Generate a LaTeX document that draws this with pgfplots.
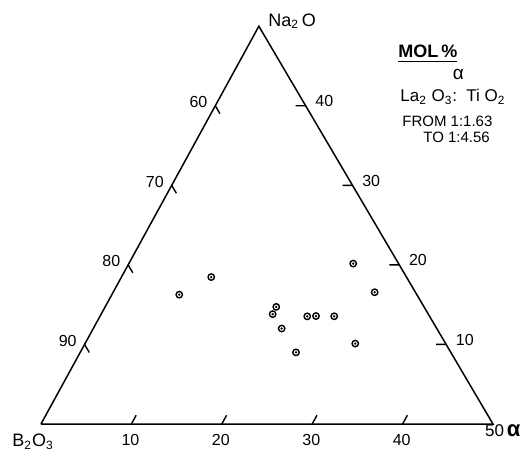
\documentclass[border=0pt]{standalone}
\usepackage{fontspec}
\setmainfont{Liberation Sans}
\usepackage{pgfplots}
\pgfplotsset{compat=1.18}
\usepackage{pgfplotstable}

% ternary data: a = alpha (La2O3:TiO2) mol%, n = Na2O mol%
\pgfplotstableread{
a n
7.46 16.26
9.93 18.47
18.93 14.72
18.97 13.81
20.84 12.00
23.87 9.00
22.93 13.53
23.88 13.57
25.91 13.54
24.82 20.16
28.93 16.56
29.89 10.11
}\datapoints

\pgfplotstableread{
a n
0 0
50 0
0 50
0 0
}\triframe

\pgfplotstableread{
a n
0 40
1 39
nan nan
0 30
1 29
nan nan
0 20
1 19
nan nan
0 10
1 9
nan nan
10 40
8.9 40
nan nan
20 30
18.9 30
nan nan
30 20
28.9 20
nan nan
40 10
38.9 10
nan nan
10 0
10 1.1
nan nan
20 0
20 1.1
nan nan
30 0
30 1.1
nan nan
40 0
40 1.1
}\tickmarks

\begin{document}
\begin{tikzpicture}
\begin{axis}[
  width=260.5pt, height=229pt, scale only axis,
  xmin=-4.535, xmax=53.10, ymin=-3.761, ymax=46.90,
  hide axis, clip=false,
  unbounded coords=jump,
]
\addplot[black, line width=0.75pt, line join=miter, mark=none] table[x expr=\thisrow{a}+0.482*\thisrow{n}, y expr=0.88*\thisrow{n}] {\triframe};
\addplot[black, line width=0.7pt, mark=none] table[x expr=\thisrow{a}+0.482*\thisrow{n}, y expr=0.88*\thisrow{n}] {\tickmarks};
\addplot[only marks, mark=o, mark size=1.6pt, mark options={line width=0.7pt, black}] table[x expr=\thisrow{a}+0.482*\thisrow{n}, y expr=0.88*\thisrow{n}] {\datapoints};
\addplot[only marks, mark=*, mark size=0.35pt, mark options={black}] table[x expr=\thisrow{a}+0.482*\thisrow{n}, y expr=0.88*\thisrow{n}] {\datapoints};

% left edge labels (B2O3)
\begin{scope}[every node/.style={font=\fontsize{8}{9}\selectfont}]
\node[anchor=east] at (axis cs:19.18,35.6) {60};
\node[anchor=east] at (axis cs:14.36,26.8) {70};
\node[anchor=east] at (axis cs:9.54,18.0) {80};
\node[anchor=east] at (axis cs:4.72,9.2) {90};
% right edge labels (Na2O)
\node[anchor=west] at (axis cs:29.58,35.7) {40};
\node[anchor=west] at (axis cs:34.76,26.9) {30};
\node[anchor=west] at (axis cs:39.94,18.1) {20};
\node[anchor=west] at (axis cs:45.12,9.3) {10};
% bottom labels (alpha)
\node[anchor=north] at (axis cs:9.9,-0.4) {10};
\node[anchor=north] at (axis cs:19.9,-0.4) {20};
\node[anchor=north] at (axis cs:29.9,-0.4) {30};
\node[anchor=north] at (axis cs:39.9,-0.4) {40};
\node[anchor=north west, inner sep=0pt, font=\fontsize{8.5}{9}\selectfont] at (axis cs:49.1,0.0) {50\,{\fontsize{11}{11}\selectfont\bfseries α}};
\end{scope}

% corner labels
\node[anchor=base west, inner sep=0pt, font=\fontsize{9}{10}\selectfont] at (axis cs:25.1,43.95) {Na\textsubscript{2}\,O};
\node[anchor=base west, inner sep=0pt, font=\fontsize{9}{10}\selectfont] at (axis cs:-3.21,-2.54) {B\textsubscript{2}O\textsubscript{3}};

% legend block
\node[anchor=base west, inner sep=0pt, font=\fontsize{9}{10}\selectfont\bfseries] at (axis cs:39.49,40.49) {\underline{MOL\,\%}};
\node[anchor=base, inner sep=0pt, font=\fontsize{9.5}{10}\selectfont] at (axis cs:46.18,38.16) {α};
\node[anchor=base west, inner sep=0pt, font=\fontsize{8.5}{10}\selectfont] at (axis cs:39.71,35.65) {La\textsubscript{2} O\textsubscript{3}:\, Ti O\textsubscript{2}};
\node[anchor=base west, inner sep=0pt, font=\fontsize{7.5}{9}\selectfont] at (axis cs:39.93,32.96) {FROM 1:1.63};
\node[anchor=base west, inner sep=0pt, font=\fontsize{7.5}{9}\selectfont] at (axis cs:42.26,31.12) {TO 1:4.56};
\end{axis}
\pgfresetboundingbox
\path (current axis.south west) rectangle (current axis.north east);
\end{tikzpicture}
\end{document}
